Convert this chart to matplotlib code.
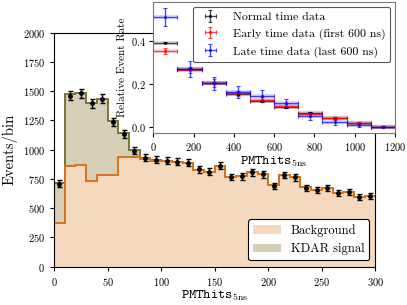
import matplotlib
matplotlib.use("Agg")
import matplotlib.pyplot as plt
import numpy as np

plt.rcParams["font.family"] = "serif"
plt.rcParams["font.serif"] = ["cmr10", "DejaVu Serif"]
plt.rcParams["mathtext.fontset"] = "cm"
plt.rcParams["axes.formatter.use_mathtext"] = True
plt.rcParams["axes.unicode_minus"] = False

# ---- main histogram (PMThits_5ns, 10-wide bins) ----
edges = np.arange(0, 310, 10)
background = np.array([375, 861, 872, 732, 784, 784, 940, 940, 920, 905,
                       900, 893, 885, 825, 810, 860, 768, 775, 805, 790,
                       695, 780, 765, 680, 655, 675, 630, 640, 598, 604])
signal = np.array([338, 613, 616, 665, 650, 461, 202, 60, 10, 5,
                   0, 0, 0, 0, 0, 0, 0, 0, 0, 0,
                   0, 0, 0, 0, 0, 0, 0, 0, 0, 0])
data_counts = np.array([710, 1460, 1483, 1397, 1434, 1238, 1134, 992, 930, 912,
                        904, 897, 890, 832, 813, 863, 765, 772, 807, 790,
                        690, 784, 764, 675, 656, 675, 627, 641, 593, 604])

# ---- inset: relative event rate, 120-wide bins ----
inset_edges = np.arange(0, 1320, 120)
normal_rate = np.array([0.392, 0.270, 0.203, 0.153, 0.119, 0.091, 0.067, 0.044, 0.017, 0.002])
normal_err = np.array([0.004, 0.006, 0.005, 0.004, 0.004, 0.004, 0.003, 0.003, 0.002, 0.001])
early_rate = np.array([0.352, 0.265, 0.203, 0.157, 0.128, 0.100, 0.060, 0.040, 0.020, 0.002])
early_err = np.array([0.014, 0.012, 0.018, 0.012, 0.012, 0.010, 0.009, 0.007, 0.005, 0.002])
late_rate = np.array([0.510, 0.270, 0.203, 0.164, 0.145, 0.110, 0.052, 0.024, 0.009, 0.001])
late_err = np.array([0.042, 0.036, 0.030, 0.027, 0.026, 0.022, 0.020, 0.012, 0.008, 0.002])

bg_fill, bg_line = "#f5d9bf", "#d9731a"
sig_fill, sig_line = "#d4cfb6", "#7a7436"

fig = plt.figure(figsize=(4.07, 3.05), dpi=100)
ax = fig.add_axes([0.1327, 0.1256, 0.7899, 0.7674])

total = background + signal
centers = 0.5 * (edges[:-1] + edges[1:])
ax.stairs(background, edges, fill=True, color=bg_fill, label="Background")
ax.stairs(total, edges, baseline=background, fill=True, color=sig_fill, label="KDAR signal")
ax.stairs(total, edges, baseline=None, color=sig_line, lw=1.4)
ax.stairs(background, edges, baseline=None, color=bg_line, lw=1.4)
ax.errorbar(centers, data_counts, yerr=np.sqrt(data_counts), fmt="o", color="k",
            ms=2.5, capsize=1.8, elinewidth=1, capthick=1, zorder=5)

ax.set_xlim(0, 300)
ax.set_ylim(0, 2000)
ax.set_xticks(np.arange(0, 301, 50))
ax.set_yticks(np.arange(0, 2001, 250))
ax.tick_params(labelsize=7.5, length=3, direction="out")
ax.set_xlabel(r"$\mathtt{PMThits}_{\mathrm{5ns}}$", fontsize=10, labelpad=1)
ax.set_ylabel("Events/bin", fontsize=10.5, labelpad=4)
leg = ax.legend(loc="lower right", fontsize=9, frameon=True, fancybox=True,
                edgecolor="k", framealpha=1, handlelength=2.2,
                borderaxespad=0.5)
leg.get_frame().set_linewidth(0.8)

# ---- inset axes ----
ins = fig.add_axes([0.3767, 0.563, 0.5938, 0.430])
ins.set_facecolor("white")
ins.set_zorder(3)
inset_centers = 0.5 * (inset_edges[:-1] + inset_edges[1:])
half_w = 60

series = [
    (normal_rate, normal_err, "k", "Normal time data"),
    (early_rate, early_err, "r", "Early time data (first 600 ns)"),
    (late_rate, late_err, "b", "Late time data (last 600 ns)"),
]
for rate, err, col, lab in series:
    ins.hlines(rate, inset_edges[:-1], inset_edges[1:], color=col, lw=3, alpha=0.15)
    ins.errorbar(inset_centers, rate, xerr=half_w, yerr=err, fmt=".", ms=2.5,
                 color=col, alpha=0.7, elinewidth=1, capsize=1.2, capthick=0.8,
                 label=lab)

ins.set_xlim(0, 1200)
ins.set_xticks(np.arange(0, 1201, 200))
ins.set_yticks([0.0, 0.2, 0.4])
ins.tick_params(labelsize=7.5, length=3, direction="out", pad=2.5)
for sp in ins.spines.values():
    sp.set_color("#777777")
ins.set_xlabel(r"$\mathtt{PMThits}_{\mathrm{5ns}}$", fontsize=10, labelpad=1)
ins.set_ylabel("Relative Event Rate", fontsize=8, labelpad=3)
ileg = ins.legend(loc="upper right", fontsize=8.5, frameon=True, fancybox=True,
                  edgecolor="#555555", framealpha=1, handlelength=2.2,
                  labelspacing=0.55, borderaxespad=0.4)
ileg.get_frame().set_linewidth(0.8)

fig.savefig("out.png", dpi=100)
